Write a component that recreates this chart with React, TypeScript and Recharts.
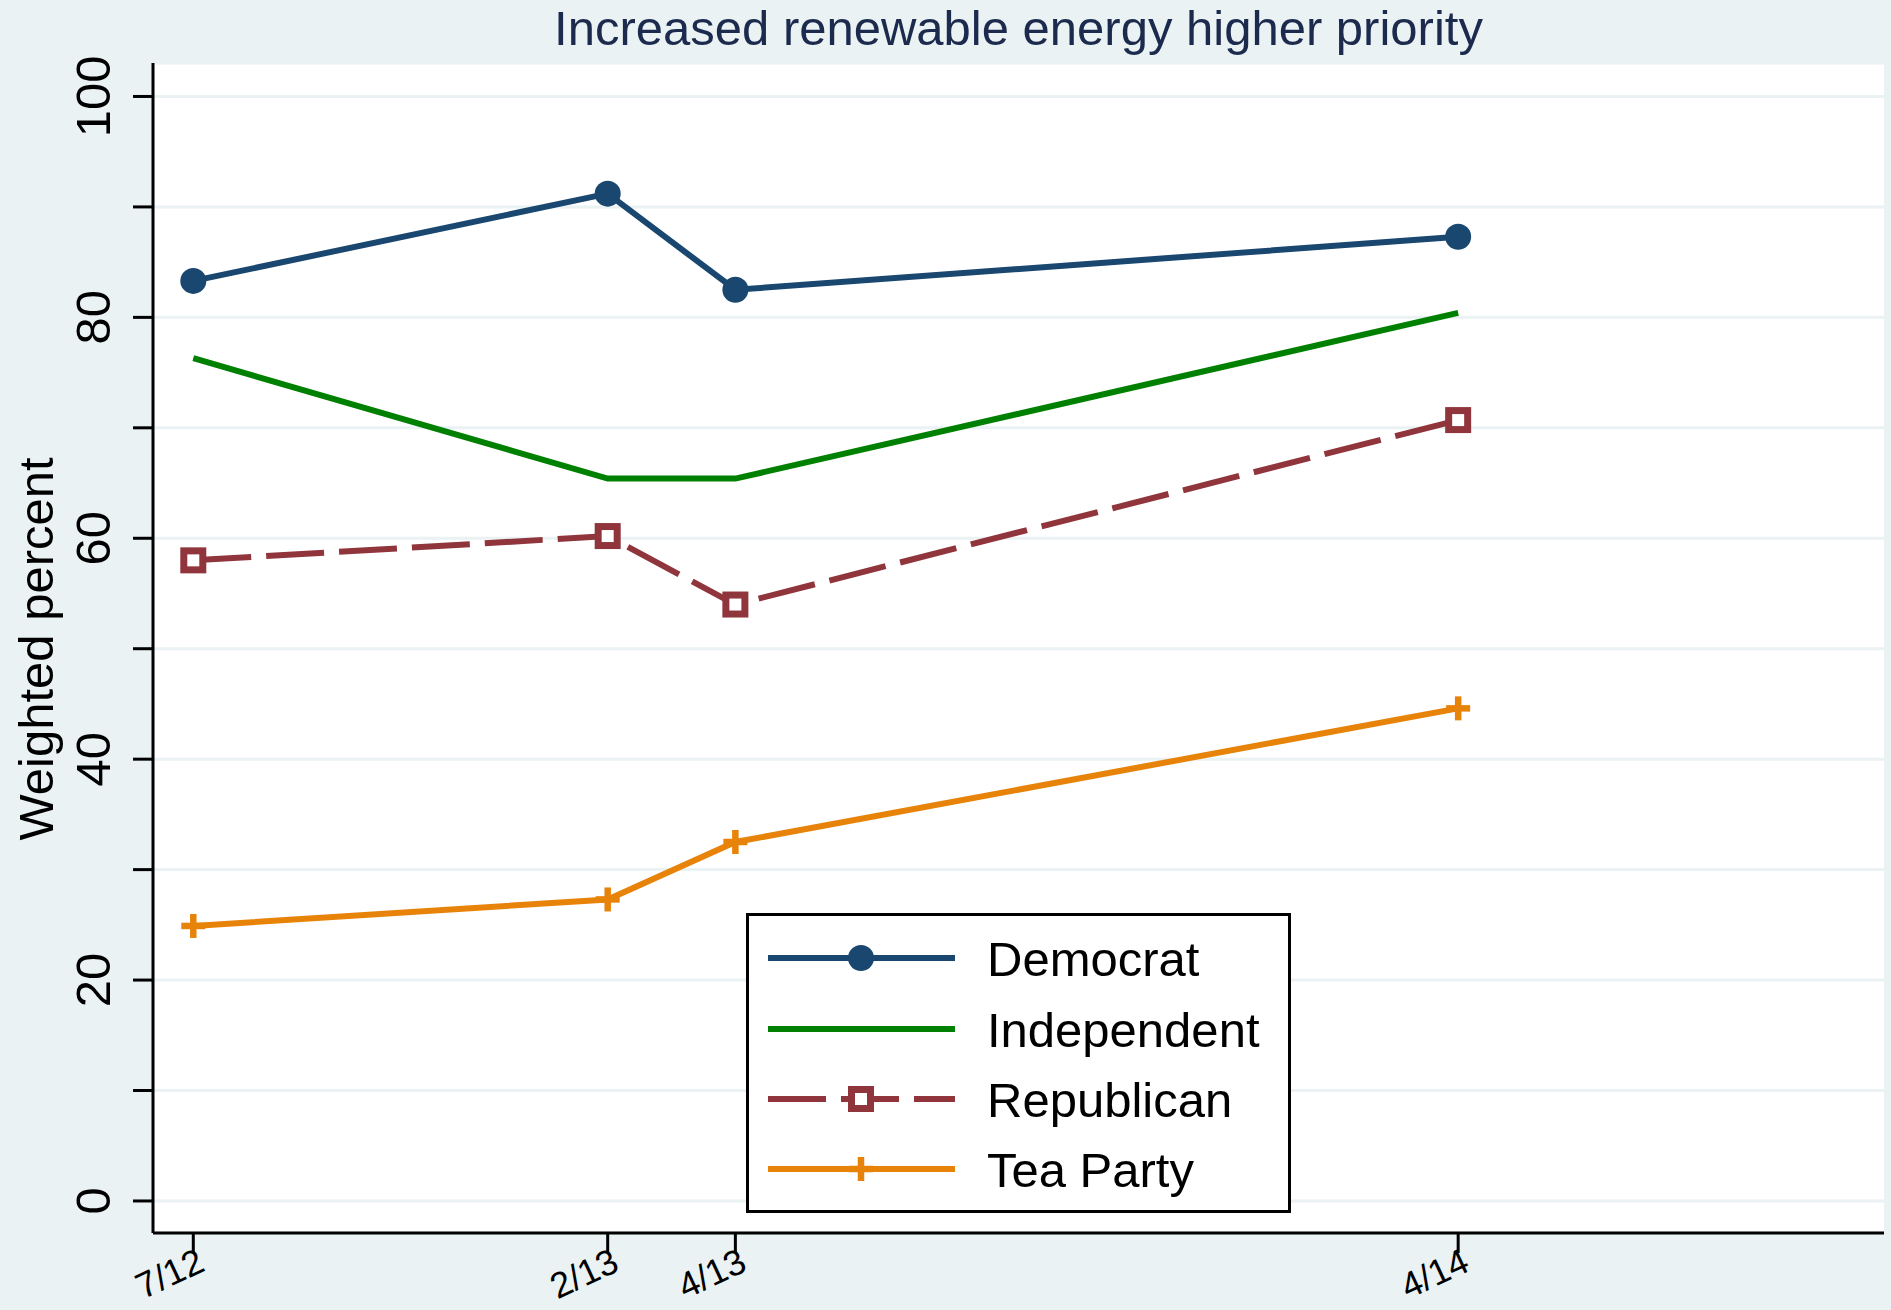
import { CartesianGrid, Legend, Line, LineChart, XAxis, YAxis } from 'recharts'

// survey waves, x = months since July 2012
const waveMonths = [0, 6.88, 9.0, 21]
const waveLabels = ['7/12', '2/13', '4/13', '4/14']

const democrat = [83.3, 91.2, 82.5, 87.3]
const independent = [76.3, 65.4, 65.4, 80.4]
const republican = [58.0, 60.2, 54.0, 70.7]
const teaParty = [24.9, 27.3, 32.5, 44.6]

const yTicks = [0, 10, 20, 30, 40, 50, 60, 70, 80, 90, 100]

const NAVY = '#1A476F'
const GREEN = '#008000'
const MAROON = '#90353B'
const ORANGE = '#E8830A'
const BG = '#EAF2F3'
const FONT = '"Liberation Sans", Arial, sans-serif'

const data = waveMonths.map((m, i) => ({
  m,
  democrat: democrat[i],
  independent: independent[i],
  republican: republican[i],
  teaParty: teaParty[i],
}))

const series = [
  { key: 'democrat', name: 'Democrat', color: NAVY, marker: 'circle', dash: undefined },
  { key: 'independent', name: 'Independent', color: GREEN, marker: 'none', dash: undefined },
  { key: 'republican', name: 'Republican', color: MAROON, marker: 'square', dash: '58 15' },
  { key: 'teaParty', name: 'Tea Party', color: ORANGE, marker: 'plus', dash: undefined },
]

function Marker({ kind, cx, cy, color }: { kind: string; cx: number; cy: number; color: string }) {
  if (kind === 'circle') return <circle cx={cx} cy={cy} r={13} fill={color} />
  if (kind === 'square')
    return (
      <rect x={cx - 9.5} y={cy - 9.5} width={19} height={19} fill="#fff" stroke={color} strokeWidth={7} />
    )
  if (kind === 'plus')
    return (
      <g stroke={color} strokeWidth={6.5}>
        <line x1={cx - 12} x2={cx + 12} y1={cy} y2={cy} />
        <line x1={cx} x2={cx} y1={cy - 12} y2={cy + 12} />
      </g>
    )
  return null
}

function XTick({ x, y, payload }: any) {
  const i = waveMonths.indexOf(payload.value)
  return (
    <g transform={`translate(${x + 4},${y - 5}) rotate(-25)`}>
      <text textAnchor="end" dy={22} fontSize={36} fill="#000" fontFamily={FONT}>
        {waveLabels[i]}
      </text>
    </g>
  )
}

function YTick({ x, y, payload }: any) {
  if (payload.value % 20 !== 0) return <g />
  return (
    <text
      transform={`translate(${x - 21},${y}) rotate(-90)`}
      textAnchor="middle"
      fontSize={49}
      fill="#000"
      fontFamily={FONT}
    >
      {payload.value}
    </text>
  )
}

function LegendBox() {
  const rows = [45, 116, 186, 256]
  return (
    <svg width={545} height={300} style={{ display: 'block' }}>
      <rect x={1.5} y={1.5} width={542} height={297} fill="#fff" stroke="#000" strokeWidth={3} />
      {series.map((s, i) => (
        <g key={s.key}>
          <line
            x1={22}
            x2={209}
            y1={rows[i]}
            y2={rows[i]}
            stroke={s.color}
            strokeWidth={6}
            strokeDasharray={s.dash}
          />
          <Marker kind={s.marker} cx={115} cy={rows[i]} color={s.color} />
          <text x={241} y={rows[i]} dy="0.36em" fontSize={49} fill="#000" fontFamily={FONT}>
            {s.name}
          </text>
        </g>
      ))}
    </svg>
  )
}

export default function App() {
  return (
    <div
      style={{
        position: 'absolute',
        left: 0,
        top: 0,
        width: 1891,
        height: 1310,
        background: BG,
        fontFamily: FONT,
      }}
    >
      <div
        style={{
          position: 'absolute',
          left: 153,
          width: 1731,
          top: 3.5,
          lineHeight: '49px',
          fontSize: 49,
          textAlign: 'center',
          color: '#1C2A4E',
          whiteSpace: 'nowrap',
        }}
      >
        Increased renewable energy higher priority
      </div>
      <LineChart width={1891} height={1310} data={data} margin={{ top: 63, right: 7, bottom: 0, left: 53 }}>
        <CartesianGrid vertical={false} stroke={BG} strokeWidth={3} fill="#fff" />
        <XAxis
          dataKey="m"
          type="number"
          domain={[-0.669, 28.07]}
          ticks={waveMonths}
          allowDataOverflow
          height={77}
          tickSize={20}
          axisLine={{ stroke: '#000', strokeWidth: 3 }}
          tickLine={{ stroke: '#000', strokeWidth: 3 }}
          tick={<XTick />}
          interval={0}
        />
        <YAxis
          type="number"
          domain={[-2.9, 103.03]}
          ticks={yTicks}
          allowDataOverflow
          width={100}
          tickSize={20}
          axisLine={{ stroke: '#000', strokeWidth: 3 }}
          tickLine={{ stroke: '#000', strokeWidth: 3 }}
          tick={<YTick />}
          interval={0}
          label={{
            value: 'Weighted percent',
            content: () => (
              <text
                transform="translate(53,649) rotate(-90)"
                textAnchor="middle"
                fontSize={49}
                fill="#000"
                fontFamily={FONT}
              >
                Weighted percent
              </text>
            ),
          }}
        />
        {series.map((s) => (
          <Line
            key={s.key}
            type="linear"
            dataKey={s.key}
            name={s.name}
            stroke={s.color}
            strokeWidth={6}
            strokeDasharray={s.dash}
            isAnimationActive={false}
            dot={
              s.marker === 'none'
                ? false
                : (p: any) => <Marker key={`${s.key}-${p.index}`} kind={s.marker} cx={p.cx} cy={p.cy} color={s.color} />
            }
            activeDot={false}
          />
        ))}
        <Legend
          layout="vertical"
          align="center"
          verticalAlign="middle"
          content={() => <LegendBox />}
          wrapperStyle={{ position: 'absolute', left: 746, top: 913, width: 545, height: 300 }}
        />
      </LineChart>
    </div>
  )
}
